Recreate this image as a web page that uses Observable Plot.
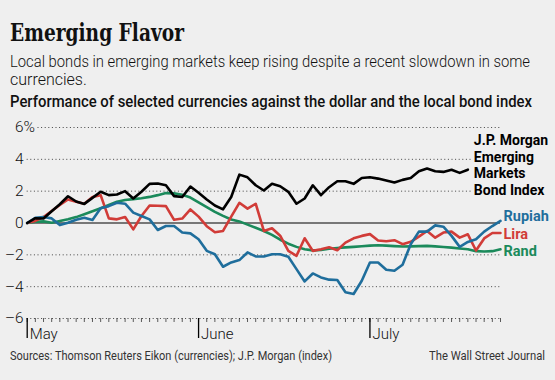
<!DOCTYPE html>
<html><head><meta charset="utf-8">
<script src="https://cdn.jsdelivr.net/npm/d3@7"></script>
<script src="https://cdn.jsdelivr.net/npm/@observablehq/plot@0.6"></script>
<style>
body{margin:0;background:#efefef;}
#wrap{position:relative;width:555px;height:380px;background:#efefef;overflow:hidden;color:#111;}
.t{position:absolute;left:10px;white-space:nowrap;transform-origin:0 0;}
#title{top:20px;font:bold 25px/25px "DejaVu Serif",serif;color:#111;}
#sub1{top:54px;font:300 16px/16px Roboto,sans-serif;}
#sub2{top:72px;font:300 16px/16px Roboto,sans-serif;}
#head{top:94px;font:500 16px/16px Roboto,sans-serif;}
#plot{position:absolute;left:0;top:112px;}
#src{top:350px;font:400 12.5px/12.5px Roboto,sans-serif;color:#333;}
#wsj{top:350px;font:400 12.5px/12.5px Roboto,sans-serif;color:#333;}
</style></head>
<body>
<div id="wrap">
  <div class="t" id="title">Emerging Flavor</div>
  <div class="t" id="sub1">Local bonds in emerging markets keep rising despite a recent slowdown in some</div>
  <div class="t" id="sub2">currencies.</div>
  <div class="t" id="head">Performance of selected currencies against the dollar and the local bond index</div>
  <div id="plot"></div>
  <div class="t" id="src">Sources: Thomson Reuters Eikon (currencies); J.P. Morgan (index)</div>
  <div class="t" id="wsj">The Wall Street Journal</div>
</div>
<script>
// Trading-day series, % change since start of May
const jpm = [0,0.3,0.28,0.74,1.18,1.68,1.35,1.2,1.58,1.96,1.75,1.79,2.0,1.54,1.96,2.46,2.48,2.37,1.69,1.63,2.29,1.9,1.48,1.1,0.86,1.63,3.04,2.87,2.37,2.04,2.46,2.31,1.96,1.21,1.54,2.37,1.75,2.25,2.62,2.62,2.46,2.83,2.87,2.79,2.67,2.54,2.71,2.83,3.25,3.42,3.25,3.21,3.35,3.15,3.35];
const rupiah = [0,0.33,0.38,0.29,-0.13,0.02,0.21,0.33,0.19,0.92,1.06,1.27,1.21,0.65,0.44,0.23,-0.44,-0.19,-0.19,-0.6,-0.65,-1.02,-1.75,-1.96,-2.75,-2.48,-2.33,-1.85,-2.1,-2.1,-1.96,-1.96,-2.12,-2.9,-3.67,-3.17,-3.42,-3.56,-3.58,-4.35,-4.46,-3.63,-2.48,-2.48,-2.94,-3.0,-2.62,-1.33,-0.54,-0.54,-0.15,-0.23,-0.81,-1.5,-1.19,-1.02,-0.54,-0.19,0.13];
const lira = [0,0.13,0.38,0.75,1.13,1.48,1.33,1.21,1.63,1.75,0.29,0.23,0.38,-0.4,0.44,1.1,1.08,1.06,0.2,0.28,0.85,0.4,-0.2,-0.58,-0.5,0.4,1.27,0.9,1.21,-0.5,-0.33,-0.8,-1.75,-2.06,-0.96,-1.75,-1.65,-1.52,-1.71,-1.23,-0.96,-0.81,-0.7,-1.1,-1.15,-1.08,-1.33,-1.18,-0.86,-0.5,-0.92,-0.6,-0.54,-0.92,-0.71,-1.73,-0.97,-0.63,-0.63];
const rand = [0,0.08,0.1,0.02,0.12,0.23,0.37,0.55,0.74,0.93,1.13,1.33,1.44,1.5,1.56,1.64,1.75,1.88,1.86,1.77,1.6,1.3,1.0,0.7,0.45,0.22,0.1,-0.1,-0.3,-0.5,-0.75,-1.05,-1.3,-1.5,-1.65,-1.72,-1.7,-1.62,-1.57,-1.53,-1.5,-1.46,-1.42,-1.4,-1.42,-1.45,-1.48,-1.47,-1.45,-1.44,-1.47,-1.51,-1.55,-1.6,-1.65,-1.77,-1.79,-1.77,-1.65];
const seriesLabels = ["J.P. Morgan\nEmerging\nMarkets\nBond Index", "Rupiah", "Lira", "Rand"];
const yTicks = [-6,-4,-2,0,2,4,6];
const monthLabels = ["May","June","July"];
const monthStarts = [0,21,42];

const BG = "#efefef";
const colors = {jpm:"#000000", rupiah:"#1f6e9c", lira:"#d13c38", rand:"#1b8a5b"};
const n = rupiah.length;
const sans = "Roboto, sans-serif";

function lineMark(vals, color){
  return Plot.line(vals, {x:(d,i)=>i, y:d=>d, stroke:color, strokeWidth:2.6, strokeLinejoin:"round", strokeLinecap:"round"});
}
function endLabel(vals, text, color, dx, dy, extra={}){
  const last = vals.length-1;
  return Plot.text([{i:last, v:vals[last]}], {x:"i", y:"v", text:()=>text, dx, dy, textAnchor:"start",
    fill:color, fontWeight:700, fontSize:14.5, fontFamily:sans, stroke:BG, strokeWidth:4, ...extra});
}

const chart = Plot.plot({
  width:555, height:235, marginTop:15, marginBottom:29, marginLeft:26.7, marginRight:55,
  x:{type:"linear", domain:[0,n-1], axis:null},
  y:{domain:[-6,6], axis:null},
  style:{background:"transparent", overflow:"visible"},
  marks:[
    Plot.ruleY(yTicks.filter(d=>d!==0), {stroke:"#444", strokeWidth:1, strokeDasharray:"1 2.6"}),
    Plot.ruleY([0], {stroke:"#000", strokeWidth:1.2}),
    Plot.axisY(yTicks, {anchor:"left", label:null, tickSize:0, tickPadding:3.5,
      tickFormat:d=> d<0 ? "\u2013"+(-d) : String(d), fontSize:15.5, fontFamily:sans, fontWeight:300, fill:"#111"}),
    Plot.text([6], {y:d=>d, frameAnchor:"left", text:()=>"%", textAnchor:"start", dx:-3.7,
      fontSize:15.5, fontFamily:sans, fontWeight:300, fill:"#111", stroke:BG, strokeWidth:5}),
    Plot.axisX(d3.range(n), {anchor:"bottom", label:null, tickSize:4, tickFormat:()=>"", stroke:"#333", strokeWidth:0.8}),
    Plot.axisX(monthStarts, {anchor:"bottom", label:null, tickSize:20, tickFormat:()=>"", stroke:"#000", strokeWidth:1.3}),
    Plot.text(monthLabels, {x:(d,i)=>monthStarts[i], frameAnchor:"bottom", textAnchor:"start", lineAnchor:"bottom",
      dx:2.5, dy:20, fontSize:15, fontFamily:sans, fontWeight:300, fill:"#111"}),
    lineMark(rand, colors.rand),
    lineMark(lira, colors.lira),
    lineMark(rupiah, colors.rupiah),
    lineMark(jpm, colors.jpm),
    endLabel(jpm, seriesLabels[0], colors.jpm, 6, -5, {lineAnchor:"middle", lineHeight:1.2, fontSize:14}),
    endLabel(rupiah, seriesLabels[1], colors.rupiah, 3, -5),
    endLabel(lira, seriesLabels[2], colors.lira, 3, 1),
    endLabel(rand, seriesLabels[3], colors.rand, 3, 2)
  ]
});
document.getElementById("plot").appendChild(chart);

function fit(id, target){
  const el = document.getElementById(id);
  const w = el.getBoundingClientRect().width;
  el.style.transform = `scaleX(${target/w})`;
}
fit("title", 174);
fit("sub1", 520);
fit("head", 522);
fit("src", 322);
const wsj = document.getElementById("wsj");
fit("wsj", 116);
wsj.style.left = (545-116)+"px";
</script>
</body></html>
